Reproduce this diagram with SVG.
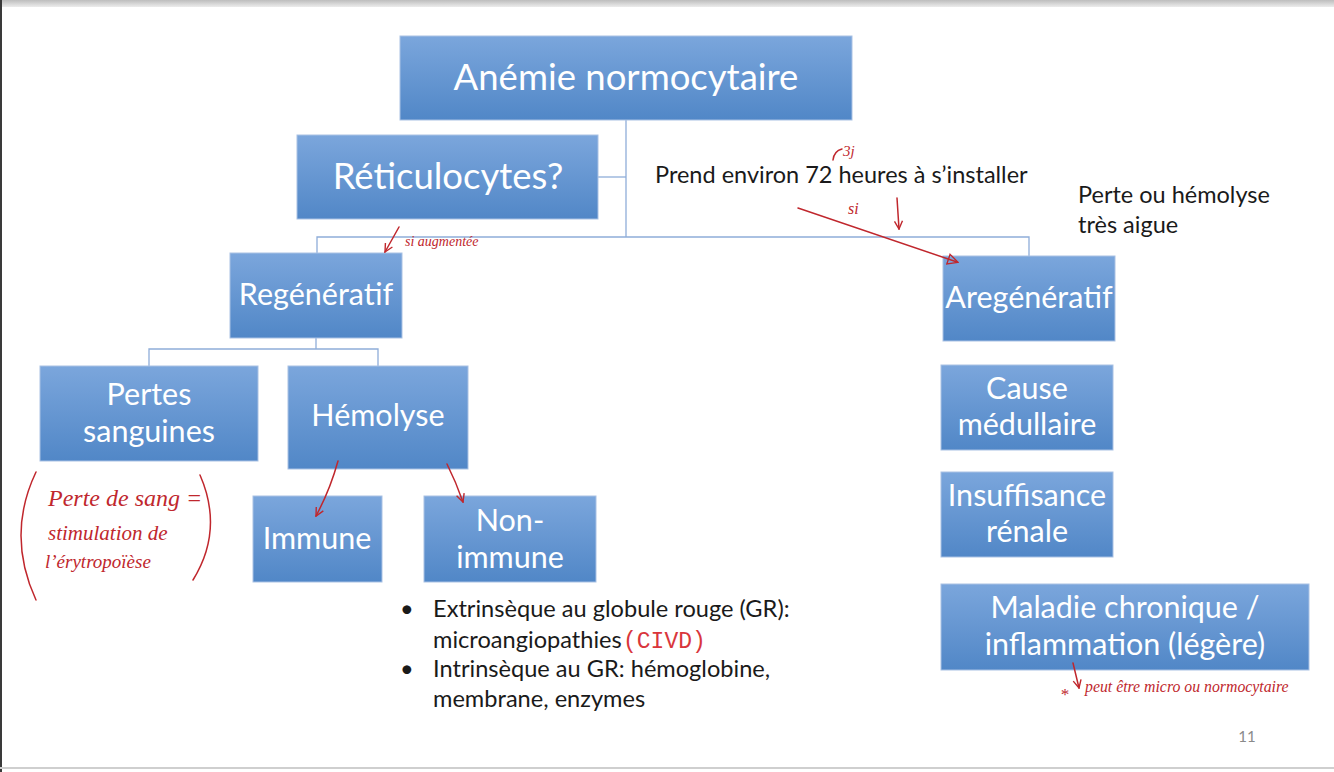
<svg xmlns="http://www.w3.org/2000/svg" width="1334" height="772" viewBox="0 0 1334 772">
<defs>
<linearGradient id="g" x1="0" y1="0" x2="0" y2="1">
<stop offset="0" stop-color="#7ba6dc"/>
<stop offset="1" stop-color="#5187c7"/>
</linearGradient>
<linearGradient id="top" x1="0" y1="0" x2="0" y2="1">
<stop offset="0" stop-color="#bdbdbd"/>
<stop offset="1" stop-color="#ececec"/>
</linearGradient>
<marker id="hd" viewBox="0 0 10 10" refX="9" refY="5" markerWidth="10" markerHeight="10" markerUnits="userSpaceOnUse" orient="auto">
<path d="M1,1 L9,5 L1,9" fill="none" stroke="#c0272d" stroke-width="1.4"/>
</marker>
<marker id="tri" viewBox="0 0 12 12" refX="10" refY="6" markerWidth="12" markerHeight="12" markerUnits="userSpaceOnUse" orient="auto">
<path d="M1,1 L11,6 L1,11 Z" fill="none" stroke="#c0272d" stroke-width="1.4"/>
</marker>
</defs>
<style>
.box{fill:url(#g);stroke:#a9c1e4;stroke-width:1}
.bt{font-family:Lato,"Open Sans",sans-serif;fill:#ffffff;text-anchor:middle}
.b34{font-size:36.5px}
.b28{font-size:30.5px}
.bk{font-family:Lato,"Open Sans",sans-serif;fill:#1a1a1a;font-size:23.5px}
.bl{font-family:Lato,"Open Sans",sans-serif;fill:#1a1a1a;font-size:23.6px}
.con{fill:none;stroke:#8fadd9;stroke-width:1.3}
.hw{font-family:"Liberation Serif","DejaVu Serif",serif;font-style:italic;fill:#c0272d}
.red{fill:none;stroke:#c0272d;stroke-width:1.5;stroke-linecap:round}
</style>
<rect x="0" y="0" width="1334" height="772" fill="#ffffff"/>
<rect x="0" y="0" width="1334" height="7" fill="url(#top)"/>
<rect x="0" y="0" width="2" height="772" fill="#3a3a3a"/>
<rect x="0" y="767" width="1334" height="2" fill="#cfcfcf"/>

<g id="connectors">
<path class="con" d="M626,120 V237"/>
<path class="con" d="M598,177 H626"/>
<path class="con" d="M317,253 V237 H1029 V256"/>
<path class="con" d="M316,338 V349"/>
<path class="con" d="M149,366 V349 H378 V366"/>
</g>

<g id="n-anemie"><rect class="box" x="400" y="36" width="452" height="84"/><text class="bt b34" x="626" y="90">Anémie normocytaire</text></g>
<g id="n-reticulocytes"><rect class="box" x="297" y="135" width="301" height="84"/><text class="bt b34" x="448" y="189">Réticulocytes?</text></g>
<g id="n-regeneratif"><rect class="box" x="230" y="253" width="172" height="85"/><text class="bt b28" x="316" y="305">Regénératif</text></g>
<g id="n-aregeneratif"><rect class="box" x="943" y="256" width="172" height="85"/><text class="bt b28" x="1029" y="308" font-size="30px">Aregénératif</text></g>
<g id="n-pertes"><rect class="box" x="40" y="366" width="218" height="95"/><text class="bt b28" x="149" y="405">Pertes</text><text class="bt b28" x="149" y="442">sanguines</text></g>
<g id="n-hemolyse"><rect class="box" x="288" y="366" width="180" height="103"/><text class="bt b28" x="378" y="426">Hémolyse</text></g>
<g id="n-immune"><rect class="box" x="253" y="496" width="129" height="86"/><text class="bt b28" x="317" y="549">Immune</text></g>
<g id="n-nonimmune"><rect class="box" x="424" y="496" width="172" height="86"/><text class="bt b28" x="510" y="531">Non-</text><text class="bt b28" x="510" y="568">immune</text></g>
<g id="n-medullaire"><rect class="box" x="941" y="365" width="172" height="85"/><text class="bt b28" x="1027" y="399">Cause</text><text class="bt b28" x="1027" y="435">médullaire</text></g>
<g id="n-renale"><rect class="box" x="941" y="472" width="172" height="85"/><text class="bt b28" x="1027" y="506">Insuffisance</text><text class="bt b28" x="1027" y="542">rénale</text></g>
<g id="n-maladie"><rect class="box" x="941" y="584" width="368" height="86"/><text class="bt b28" x="1125" y="618">Maladie chronique /</text><text class="bt b28" x="1125" y="655">inflammation (légère)</text></g>

<g id="labels">
<text class="bk" x="655" y="183">Prend environ 72 heures à s’installer</text>
<text class="bk" x="1078" y="203">Perte ou hémolyse</text>
<text class="bk" x="1078" y="233">très aigue</text>
<g class="bl">
<text x="400" y="617">•</text><text x="433" y="617">Extrinsèque au globule rouge (GR):</text>
<text x="433" y="648">microangiopathies</text>
<text x="400" y="677">•</text><text x="433" y="677">Intrinsèque au GR: hémoglobine,</text>
<text x="433" y="707">membrane, enzymes</text>
</g>
<text x="1247" y="742" font-family="Lato,sans-serif" font-size="15" fill="#8a8a8a" text-anchor="middle">11</text>
</g>

<g id="annotations">
<path class="red" d="M833,160 Q834,151 842,149"/>
<text class="hw" x="843" y="156" font-size="15">3j</text>
<text class="hw" x="848" y="214" font-size="16">si</text>
<path class="red" d="M897,198 L899,229" marker-end="url(#hd)"/>
<path class="red" d="M798,208 L957,262" marker-end="url(#tri)"/>
<path class="red" d="M399,227 L385,252" marker-end="url(#hd)"/>
<text class="hw" x="405" y="246" font-size="14">si augmentée</text>
<path class="red" d="M338,461 Q330,490 316,516" marker-end="url(#hd)"/>
<path class="red" d="M447,464 Q456,482 463,502" marker-end="url(#hd)"/>
<path class="red" d="M36,472 Q6,535 36,600"/>
<path class="red" d="M200,475 Q224,530 193,580"/>
<text class="hw" x="48" y="506" font-size="24">Perte de sang =</text>
<text class="hw" x="48" y="540" font-size="21">stimulation de</text>
<text class="hw" x="45" y="568" font-size="19">l’érytropoïèse</text>
<text x="623" y="648" font-family="Liberation Mono,monospace" font-size="23" fill="#d9363c">(CIVD)</text>
<path class="red" d="M1073,663 L1079,688" marker-end="url(#hd)"/>
<text class="hw" x="1060" y="700" font-size="17">*</text>
<text class="hw" x="1085" y="692" font-size="15.8">peut être micro ou normocytaire</text>
</g>
</svg>
